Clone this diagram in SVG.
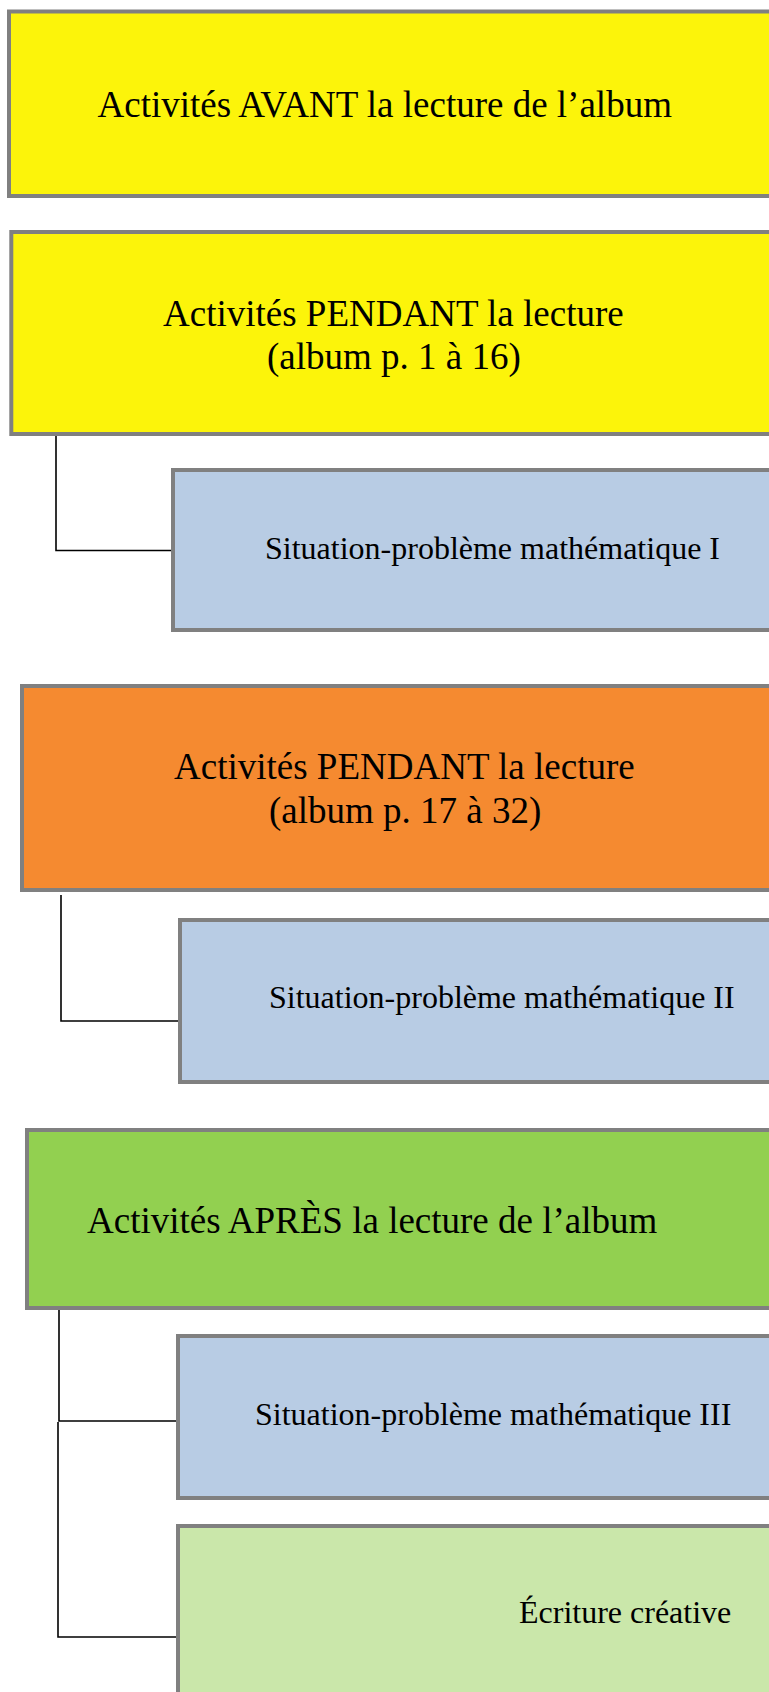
<svg xmlns="http://www.w3.org/2000/svg" width="769" height="1692" viewBox="0 0 769 1692">
  <style>
    .box { stroke: #808080; stroke-width: 4; }
    .yellow { fill: #FCF40A; }
    .orange { fill: #F58A30; }
    .green { fill: #92D050; }
    .blue { fill: #B8CCE4; }
    .lightgreen { fill: #CAE7AA; }
    .big { font-family: "Liberation Serif", "Times New Roman", serif; font-size: 37px; fill: #000; }
    .small { font-family: "Liberation Serif", "Times New Roman", serif; font-size: 32px; fill: #000; }
    .link { fill: none; stroke: #000; stroke-width: 1.6; }
  </style>
  <rect width="769" height="1692" fill="#FFFFFF"/>

  <!-- connectors -->
  <g id="connectors">
    <path class="link" d="M56 436 V550.5 H173"/>
    <path class="link" d="M61 895 V1021 H178"/>
    <path class="link" d="M55 1309 H59 V1421 H176"/>
    <path class="link" d="M58 1422 V1637 H177"/>
  </g>

  <g id="avant">
    <rect class="box yellow" x="9" y="11.5" width="790" height="184.5"/>
    <text class="big" x="97.5" y="117">Activités AVANT la lecture de l’album</text>
  </g>

  <g id="pendant-1">
    <rect class="box yellow" x="11.3" y="232" width="790" height="202"/>
    <text class="big" x="163" y="326">Activités PENDANT la lecture</text>
    <text class="big" x="267" y="369">(album p. 1 à 16)</text>
  </g>

  <g id="situation-1">
    <rect class="box blue" x="173" y="470" width="620" height="160"/>
    <text class="small" x="265" y="559">Situation-problème mathématique I</text>
  </g>

  <g id="pendant-2">
    <rect class="box orange" x="22" y="686" width="790" height="204"/>
    <text class="big" x="174" y="779">Activités PENDANT la lecture</text>
    <text class="big" x="269" y="823">(album p. 17 à 32)</text>
  </g>

  <g id="situation-2">
    <rect class="box blue" x="180" y="920" width="620" height="162"/>
    <text class="small" x="269" y="1008">Situation-problème mathématique II</text>
  </g>

  <g id="apres">
    <rect class="box green" x="27" y="1130" width="790" height="178"/>
    <text class="big" x="87" y="1233">Activités APRÈS la lecture de l’album</text>
  </g>

  <g id="situation-3">
    <rect class="box blue" x="178" y="1336" width="620" height="162"/>
    <text class="small" x="255" y="1425">Situation-problème mathématique III</text>
  </g>

  <g id="ecriture">
    <rect class="box lightgreen" x="178" y="1526" width="620" height="200"/>
    <text class="small" x="519" y="1623">Écriture créative</text>
  </g>
</svg>
